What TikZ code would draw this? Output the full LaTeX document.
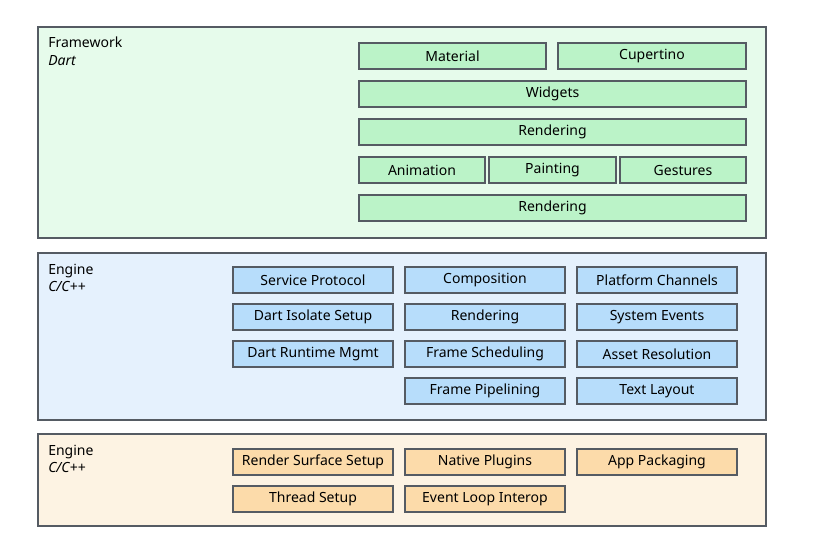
\documentclass[tikz,border=0pt]{standalone}
\usepackage{fontspec}
\setmainfont{Noto Sans}
\definecolor{fwfill}{HTML}{E6FBEB}
\definecolor{fwbox}{HTML}{BBF3C8}
\definecolor{enfill}{HTML}{E5F1FD}
\definecolor{enbox}{HTML}{B7DDFB}
\definecolor{embfill}{HTML}{FDF3E3}
\definecolor{embbox}{HTML}{FCDBAA}
\definecolor{edge}{HTML}{555B63}
\tikzset{
  layer/.style={draw=edge, line width=0.8pt},
  part/.style={draw=edge, line width=0.8pt, inner sep=0pt, font=\fontsize{10.5}{12}\selectfont},
  title/.style={anchor=north west, inner sep=0pt, align=left, font=\fontsize{10.5}{13}\selectfont}
}
\begin{document}
\begin{tikzpicture}[x=0.75pt,y=-0.75pt]
  \useasboundingbox (0,0) rectangle (828,558);
  % Framework
  \draw[layer, fill=fwfill] (38,27) rectangle (766,238);
  \node[title] (fw) at (48,37) {\textbf{Framework}\\\textit{Dart}};
  \node[part, fill=fwbox, minimum width=140.25pt, minimum height=19.5pt] (material) at (452.5,56) {Material};
  \node[part, fill=fwbox, minimum width=141pt, minimum height=19.5pt] (cupertino) at (652,56) {Cupertino};
  \node[part, fill=fwbox, minimum width=290.25pt, minimum height=19.5pt] (widgets) at (552.5,94) {Widgets};
  \node[part, fill=fwbox, minimum width=290.25pt, minimum height=19.5pt] (render1) at (552.5,132) {Rendering};
  \node[part, fill=fwbox, minimum width=94.5pt, minimum height=19.5pt] (animation) at (422,170) {Animation};
  \node[part, fill=fwbox, minimum width=95.25pt, minimum height=19.5pt] (painting) at (552.5,170) {Painting};
  \node[part, fill=fwbox, minimum width=94.5pt, minimum height=19.5pt] (gestures) at (683,170) {Gestures};
  \node[part, fill=fwbox, minimum width=290.25pt, minimum height=19.5pt] (render2) at (552.5,208) {Rendering};
  % Engine
  \draw[layer, fill=enfill] (38,253) rectangle (766,420);
  \node[title] (en) at (48,264) {\textbf{Engine}\\\textit{C/C++}};
  \foreach \x/\y/\name/\txt in {
      313/280/service/Service Protocol, 485/280/compose/Composition, 657/280/channels/Platform Channels,
      313/317/isolate/Dart Isolate Setup, 485/317/render3/Rendering, 657/317/sysevents/System Events,
      313/354/runtime/Dart Runtime Mgmt, 485/354/scheduling/Frame Scheduling, 657/354/assets/Asset Resolution,
      485/391/pipelining/Frame Pipelining, 657/391/textlayout/Text Layout}
    \node[part, fill=enbox, minimum width=120pt, minimum height=19.5pt] (\name) at (\x,\y) {\txt};
  % Embedder
  \draw[layer, fill=embfill] (38,434) rectangle (766,526);
  \node[title] (emb) at (48,445) {\textbf{Engine}\\\textit{C/C++}};
  \foreach \x/\y/\name/\txt in {
      313/462/surface/Render Surface Setup, 485/462/plugins/Native Plugins, 657/462/packaging/App Packaging,
      313/499/thread/Thread Setup, 485/499/eventloop/Event Loop Interop}
    \node[part, fill=embbox, minimum width=120pt, minimum height=19.5pt] (\name) at (\x,\y) {\txt};
\end{tikzpicture}
\end{document}
